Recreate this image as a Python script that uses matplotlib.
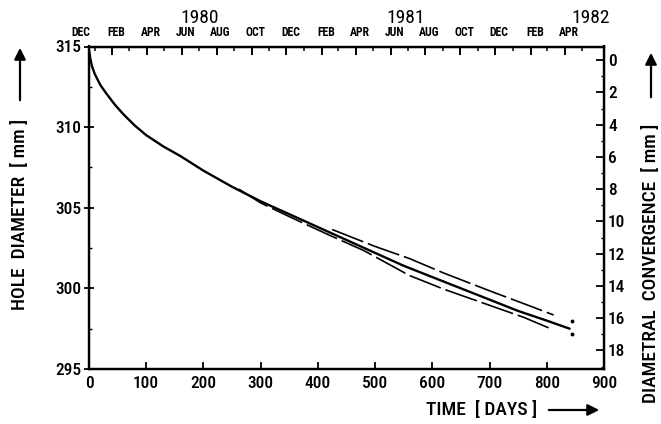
import matplotlib
matplotlib.use('Agg')
import matplotlib.pyplot as plt
from matplotlib import font_manager as fm
from matplotlib.ticker import MultipleLocator, FixedLocator, NullFormatter
from datetime import date

_names = {f.name for f in fm.fontManager.ttflist}
_fams = [n for n in ['Liberation Sans Narrow', 'Roboto Condensed', 'Open Sans Condensed']
         if n in _names]
plt.rcParams['font.family'] = _fams + ['DejaVu Sans']
plt.rcParams['font.stretch'] = 'condensed'
plt.rcParams['font.weight'] = 'medium'

# ---------------- data ----------------
main_days = [0, 2, 5, 10, 20, 30, 45, 60, 80, 100, 130, 160, 200, 250, 300, 350, 400,
             450, 500, 550, 600, 650, 700, 750, 800, 840]
main_diam = [314.8, 314.3, 313.8, 313.3, 312.6, 312.1, 311.4, 310.8, 310.1, 309.5,
             308.8, 308.2, 307.3, 306.3, 305.4, 304.6, 303.8, 303.0, 302.2, 301.4,
             300.7, 300.0, 299.3, 298.6, 298.0, 297.5]

upper_days = [425, 500, 560, 620, 700, 760, 812]
upper_diam = [303.65, 302.6, 301.85, 300.95, 299.85, 299.05, 298.35]

lower_days = [262, 300, 350, 420, 480, 560, 620, 700, 760, 810]
lower_diam = [306.15, 305.3, 304.45, 303.3, 302.35, 300.8, 299.95, 298.95, 298.2, 297.45]

end_dot_days = [844, 844]
end_dot_diam = [298.0, 297.2]

left_ticks = [295, 300, 305, 310, 315]
bottom_ticks = [0, 100, 200, 300, 400, 500, 600, 700, 800, 900]
right_ticks = [0, 2, 4, 6, 8, 10, 12, 14, 16, 18]

start_date = date(1979, 12, 22)
month_labels = ['DEC', 'FEB', 'APR', 'JUN', 'AUG', 'OCT', 'DEC', 'FEB', 'APR',
                'JUN', 'AUG', 'OCT', 'DEC', 'FEB', 'APR']
month_label_dates = [date(1979, 12, 1), date(1980, 2, 1), date(1980, 4, 1),
                     date(1980, 6, 1), date(1980, 8, 1), date(1980, 10, 1),
                     date(1980, 12, 1), date(1981, 2, 1), date(1981, 4, 1),
                     date(1981, 6, 1), date(1981, 8, 1), date(1981, 10, 1),
                     date(1981, 12, 1), date(1982, 2, 1), date(1982, 4, 1)]
minor_month_dates = [date(1980, 1, 1), date(1980, 3, 1), date(1980, 5, 1),
                     date(1980, 7, 1), date(1980, 9, 1), date(1980, 11, 1),
                     date(1981, 1, 1), date(1981, 3, 1), date(1981, 5, 1),
                     date(1981, 7, 1), date(1981, 9, 1), date(1981, 11, 1),
                     date(1982, 1, 1), date(1982, 3, 1), date(1982, 5, 1)]
year_labels = ['1980', '1981', '1982']
year_label_dates = [date(1980, 7, 3), date(1981, 6, 28), date(1982, 5, 16)]

ref_diameter = 314.15  # diameter corresponding to zero convergence

# ---------------- figure ----------------
fig = plt.figure(figsize=(6.61, 4.24), dpi=100)
ax = fig.add_axes([89 / 661, 1 - 369 / 424, (604 - 89) / 661, (369 - 46.5) / 424])

ax.plot(main_days, main_diam, color='black', lw=1.7, solid_capstyle='round')
ax.plot(upper_days, upper_diam, color='black', lw=1.2, linestyle=(0, (20, 3)))
ax.plot(lower_days, lower_diam, color='black', lw=1.2, linestyle=(0, (20, 3)))
ax.plot(end_dot_days, end_dot_diam, linestyle='none', marker='o', ms=1.8, color='black')

ax.set_xlim(0, 900)
ax.set_ylim(295, 315)
for s in ax.spines.values():
    s.set_linewidth(1.6)

tick_fs = 12.5
ax.xaxis.set_major_locator(FixedLocator(bottom_ticks))
ax.yaxis.set_major_locator(FixedLocator(left_ticks))
ax.yaxis.set_minor_locator(MultipleLocator(2.5))
ax.tick_params(axis='x', direction='in', length=5, width=1.3, labelsize=tick_fs, pad=5, top=False)
ax.tick_params(axis='y', which='major', direction='inout', length=7, width=1.3,
               labelsize=tick_fs, pad=2, right=False)
ax.tick_params(axis='y', which='minor', direction='in', length=2.5, width=1.0, right=False)

# top (calendar) axis
axt = ax.twiny()
axt.set_xlim(0, 900)
maj = [(d - start_date).days for d in month_label_dates]
mnr = [(d - start_date).days for d in minor_month_dates]
axt.xaxis.set_major_locator(FixedLocator([m for m in maj if 0 <= m <= 900]))
axt.xaxis.set_minor_locator(FixedLocator([m for m in mnr if 0 <= m <= 900]))
axt.xaxis.set_major_formatter(NullFormatter())
axt.tick_params(axis='x', which='major', direction='in', length=6, width=1.4)
axt.tick_params(axis='x', which='minor', direction='in', length=3, width=1.1)
for lab, d in zip(month_labels, maj):
    axt.annotate(lab, xy=(d + 7, 1), xycoords=('data', 'axes fraction'),
                 xytext=(0, 5.2), textcoords='offset points', ha='center', va='bottom',
                 fontsize=8.5, fontweight='bold', annotation_clip=False)
for lab, d in zip(year_labels, year_label_dates):
    axt.annotate(lab, xy=((d - start_date).days, 1), xycoords=('data', 'axes fraction'),
                 xytext=(0, 14), textcoords='offset points', ha='center', va='bottom',
                 fontsize=14, fontweight='normal', annotation_clip=False)

# right (convergence) axis
axr = ax.twinx()
axr.set_ylim(ref_diameter - 295, ref_diameter - 315)
axr.yaxis.set_major_locator(FixedLocator(right_ticks))
axr.yaxis.set_minor_locator(MultipleLocator(1))
axr.tick_params(axis='y', which='major', direction='in', length=6, width=1.3,
                labelsize=tick_fs, pad=3)
axr.tick_params(axis='y', which='minor', direction='in', length=2.5, width=1.0)
for s in axr.spines.values():
    s.set_linewidth(1.6)

# axis titles with arrows
def fx(px):
    return px / 661

def fy(py):
    return 1 - py / 424

lab_fs = 14
fig.text(fx(20), fy(214), 'HOLE  DIAMETER  [ mm ]', rotation=90, ha='center', va='center',
         fontsize=lab_fs)
fig.text(fx(651), fy(263), 'DIAMETRAL  CONVERGENCE  [ mm ]', rotation=90, ha='center',
         va='center', fontsize=lab_fs)
fig.text(fx(482), fy(410), 'TIME  [ DAYS ]', ha='center', va='center', fontsize=lab_fs)

arrow = dict(arrowstyle='-|>', lw=1.6, color='black', mutation_scale=17)
ax.annotate('', xy=(fx(20), fy(45)), xytext=(fx(20), fy(103)), xycoords='figure fraction',
            textcoords='figure fraction', arrowprops=arrow)
ax.annotate('', xy=(fx(651), fy(50)), xytext=(fx(651), fy(100)), xycoords='figure fraction',
            textcoords='figure fraction', arrowprops=arrow)
ax.annotate('', xy=(fx(602), fy(410)), xytext=(fx(546), fy(410)), xycoords='figure fraction',
            textcoords='figure fraction', arrowprops=arrow)

fig.savefig('out.png', dpi=100)
